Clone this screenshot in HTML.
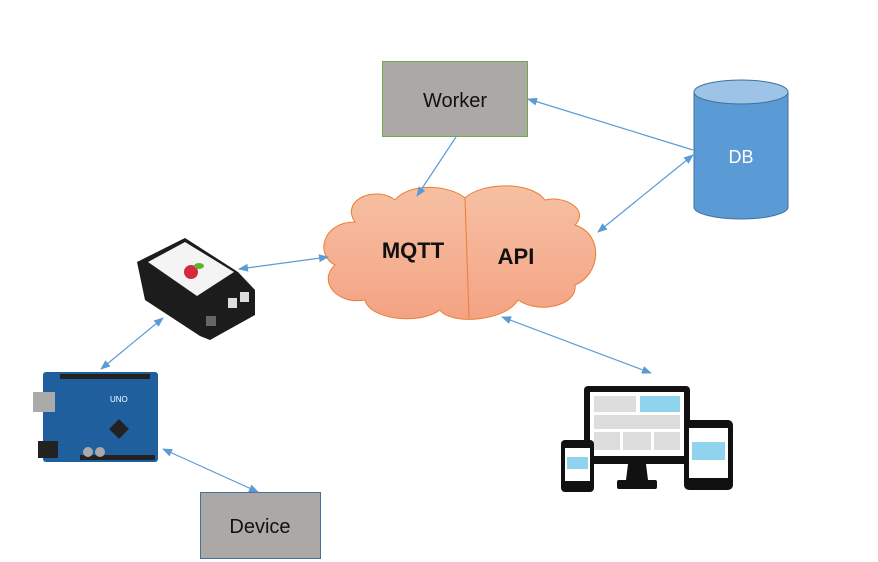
<!DOCTYPE html>
<html><head><meta charset="utf-8"><style>body{margin:0;background:#fff}svg{display:block}text{font-family:"Liberation Sans",sans-serif}</style></head><body>
<svg width="878" height="562" viewBox="0 0 878 562" xmlns="http://www.w3.org/2000/svg">
<defs>
<marker id="a" markerWidth="10" markerHeight="8" refX="9" refY="4" orient="auto-start-reverse" markerUnits="userSpaceOnUse"><path d="M0,0 L10,4 L0,8 z" fill="#5b9bd5"/></marker>
<linearGradient id="cg" x1="0" y1="0" x2="0" y2="1"><stop offset="0" stop-color="#f6c0a3"/><stop offset="1" stop-color="#f4a384"/></linearGradient>
</defs>
<!-- cloud -->
<g fill="url(#cg)" stroke="#ed7d31" stroke-width="1">
<path d="M355,222 C340,200 375,185 395,200 C410,182 450,185 465,198 C480,183 530,180 545,200 C565,195 590,210 575,225 C605,235 600,275 575,285 C578,305 540,315 518,300 C505,322 450,325 440,310 C420,325 370,320 365,300 C335,305 318,280 335,265 C315,255 322,222 355,222 Z"/>
</g>
<line x1="465" y1="197" x2="469" y2="318" stroke="#ed7d31" stroke-width="1"/>
<text x="413" y="258" font-size="22" font-weight="bold" text-anchor="middle" fill="#111">MQTT</text>
<text x="516" y="264" font-size="22" font-weight="bold" text-anchor="middle" fill="#111">API</text>
<!-- worker -->
<rect x="382.5" y="61.5" width="145" height="75" fill="#aca8a5" stroke="#70ad47"/>
<text x="455" y="107" font-size="20" text-anchor="middle" fill="#111">Worker</text>
<!-- device -->
<rect x="200.5" y="492.5" width="120" height="66" fill="#aca8a5" stroke="#41719c"/>
<text x="260" y="533" font-size="20" text-anchor="middle" fill="#111">Device</text>
<!-- DB -->
<path d="M694,92 L694,207 A47,12 0 0 0 788,207 L788,92 Z" fill="#5b9bd5" stroke="#41719c"/>
<ellipse cx="741" cy="92" rx="47" ry="12" fill="#9dc3e6" stroke="#41719c"/>
<text x="741" y="163" font-size="18" text-anchor="middle" fill="#fff">DB</text>
<!-- arrows -->
<g stroke="#5b9bd5" stroke-width="1.2" fill="none">
<line x1="456" y1="137" x2="417" y2="196" marker-end="url(#a)"/>
<line x1="693" y1="150" x2="528" y2="99" marker-end="url(#a)"/>
<line x1="693" y1="155" x2="598" y2="232" marker-start="url(#a)" marker-end="url(#a)"/>
<line x1="239" y1="269" x2="328" y2="257" marker-start="url(#a)" marker-end="url(#a)"/>
<line x1="163" y1="318" x2="101" y2="369" marker-start="url(#a)" marker-end="url(#a)"/>
<line x1="163" y1="449" x2="258" y2="492" marker-start="url(#a)" marker-end="url(#a)"/>
<line x1="502" y1="317" x2="651" y2="373" marker-start="url(#a)" marker-end="url(#a)"/>
</g>
<!-- raspberry pi box -->
<path d="M137,262 L185,238 L238,272 L255,290 L255,315 L210,340 L200,336 L145,300 Z" fill="#1c1c1c"/>
<path d="M148,262 L185,242 L234,272 L197,296 Z" fill="#f4f4f4"/>
<circle cx="191" cy="272" r="7" fill="#d42a3c"/><ellipse cx="199" cy="266" rx="5" ry="3" fill="#5cb32e"/>
<rect x="228" y="298" width="9" height="10" fill="#ddd"/><rect x="240" y="292" width="9" height="10" fill="#ddd"/><rect x="206" y="316" width="10" height="10" fill="#666"/>
<!-- arduino -->
<rect x="43" y="372" width="115" height="90" rx="3" fill="#1f5f9e"/>
<rect x="33" y="392" width="22" height="20" fill="#aaa"/><rect x="38" y="441" width="20" height="17" fill="#222"/>
<rect x="60" y="374" width="90" height="5" fill="#222"/><rect x="80" y="455" width="75" height="5" fill="#222"/>
<rect x="112" y="422" width="14" height="14" fill="#222" transform="rotate(45 119 429)"/>
<circle cx="88" cy="452" r="5" fill="#aaa"/><circle cx="100" cy="452" r="5" fill="#aaa"/>
<text x="110" y="402" font-size="8" fill="#fff">UNO</text>
<!-- devices -->
<rect x="584" y="386" width="106" height="78" rx="4" fill="#111"/>
<rect x="590" y="392" width="94" height="64" fill="#fff"/>
<rect x="594" y="396" width="42" height="16" fill="#ddd"/><rect x="640" y="396" width="40" height="16" fill="#8fd3ee"/>
<rect x="594" y="415" width="86" height="14" fill="#ddd"/><rect x="594" y="432" width="26" height="18" fill="#ddd"/><rect x="623" y="432" width="28" height="18" fill="#ddd"/><rect x="654" y="432" width="26" height="18" fill="#ddd"/>
<path d="M628,464 L646,464 L648,480 L626,480 Z" fill="#111"/><rect x="617" y="480" width="40" height="9" rx="2" fill="#111"/>
<rect x="684" y="420" width="49" height="70" rx="5" fill="#111"/><rect x="689" y="428" width="39" height="50" fill="#fff"/><rect x="692" y="442" width="33" height="18" fill="#8fd3ee"/>
<rect x="561" y="440" width="33" height="52" rx="4" fill="#111"/><rect x="565" y="448" width="25" height="33" fill="#fff"/><rect x="567" y="457" width="21" height="12" fill="#8fd3ee"/>
</svg>
</body></html>
